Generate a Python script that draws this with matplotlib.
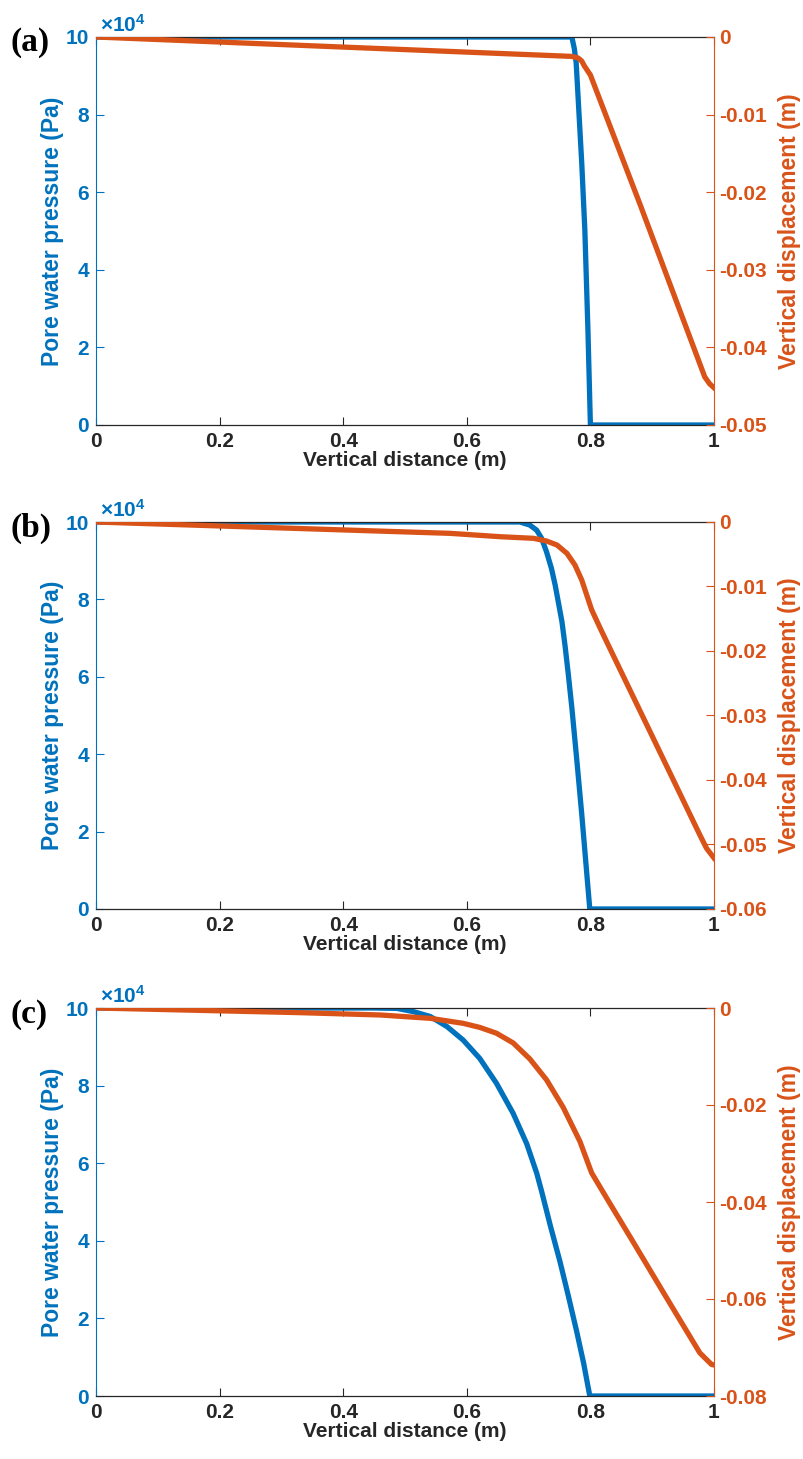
import numpy as np
import matplotlib
matplotlib.use("Agg")
import matplotlib.pyplot as plt
from matplotlib.ticker import FuncFormatter

plt.rcParams['font.family'] = ['Liberation Sans', 'DejaVu Sans']
plt.rcParams['font.weight'] = 'bold'
plt.rcParams['mathtext.fontset'] = 'custom'
plt.rcParams['mathtext.rm'] = 'Liberation Sans:bold'
plt.rcParams['mathtext.it'] = 'Liberation Sans:bold'
plt.rcParams['mathtext.bf'] = 'Liberation Sans:bold'
plt.rcParams['axes.unicode_minus'] = False

BLUE = '#0072BD'
ORANGE = '#D95319'
GREY = '#262626'

# --- data ---
# (a)
dist_pa_a = [0.0, 0.77, 0.774, 0.777, 0.786, 0.791, 0.796, 0.80, 1.0]
pore_a = [1.0e5, 1.0e5, 0.97e5, 0.933e5, 0.675e5, 0.503e5, 0.245e5, 0.0, 0.0]
dist_u_a = [0.0, 0.77, 0.78, 0.786, 0.79, 0.80, 0.88, 0.985, 0.993, 1.0]
disp_a = [0.0, -0.0025, -0.0027, -0.0031, -0.0037, -0.0049, -0.0215, -0.0438, -0.0447, -0.0452]

# (b)
dist_pa_b = [0.0, 0.686, 0.702, 0.713, 0.721, 0.729, 0.737, 0.743, 0.748, 0.754, 0.759,
             0.764, 0.770, 0.778, 0.786, 0.799, 1.0]
pore_b = [1.0e5, 1.0e5, 0.992e5, 0.979e5, 0.958e5, 0.923e5, 0.880e5, 0.837e5, 0.794e5,
          0.742e5, 0.680e5, 0.610e5, 0.520e5, 0.385e5, 0.245e5, 0.0, 0.0]
dist_u_b = [0.0, 0.573, 0.654, 0.708, 0.729, 0.746, 0.762, 0.775, 0.786, 0.794, 0.802,
            0.816, 0.829, 0.896, 0.977, 0.988, 1.0]
disp_b = [0.0, -0.00176, -0.00228, -0.00253, -0.00295, -0.00357, -0.00486, -0.00667,
          -0.0090, -0.0113, -0.0136, -0.0165, -0.0191, -0.0324, -0.0485, -0.0506, -0.0521]

# (c)
dist_pa_c = [0.0, 0.45, 0.487, 0.514, 0.541, 0.568, 0.594, 0.621, 0.648, 0.675, 0.697,
             0.713, 0.721, 0.735, 0.751, 0.764, 0.778, 0.789, 0.799, 1.0]
pore_c = [1.0e5, 1.0e5, 0.999e5, 0.9905e5, 0.978e5, 0.952e5, 0.9175e5, 0.870e5, 0.806e5,
          0.7285e5, 0.650e5, 0.575e5, 0.528e5, 0.440e5, 0.345e5, 0.260e5, 0.165e5,
          0.085e5, 0.0, 0.0]
dist_u_c = [0.0, 0.33, 0.46, 0.541, 0.594, 0.621, 0.648, 0.675, 0.702, 0.729, 0.756,
            0.783, 0.802, 0.816, 0.832, 0.869, 0.923, 0.977, 0.996, 1.0]
disp_c = [0.0, -0.00096, -0.00144, -0.00213, -0.00316, -0.0040, -0.0052, -0.0072, -0.0105,
          -0.0148, -0.0205, -0.0275, -0.0340, -0.0370, -0.0404, -0.0482, -0.0597, -0.0711,
          -0.0735, -0.0736]

x_ticks = [0, 0.2, 0.4, 0.6, 0.8, 1.0]
pore_ticks = [0, 2e4, 4e4, 6e4, 8e4, 10e4]

W, H = 804, 1459
fig = plt.figure(figsize=(W / 100, H / 100), dpi=100)


def panel(top, bottom, xp, p, xd, d, dmin, dstep, tag):
    rect = [96 / W, 1 - bottom / H, (714 - 96) / W, (bottom - top) / H]
    ax = fig.add_axes(rect)
    ax.plot(xp, p, color=BLUE, lw=3.8, solid_joinstyle='round')
    ax.set_xlim(0, 1)
    ax.set_ylim(0, 1e5)
    ax.set_xticks(x_ticks)
    ax.set_yticks(pore_ticks)
    ax.xaxis.set_major_formatter(FuncFormatter(lambda v, _: f'{v:g}'))
    ax.yaxis.set_major_formatter(FuncFormatter(lambda v, _: f'{v / 1e4:g}'))
    ax.tick_params(axis='x', direction='in', top=True, length=6, width=0.8,
                   color=GREY, labelcolor=GREY, labelsize=15, pad=5)
    ax.tick_params(axis='y', direction='in', length=6, width=0.8,
                   color=BLUE, labelcolor=BLUE, labelsize=15, pad=5)
    for s in ('top', 'bottom'):
        ax.spines[s].set_color(GREY)
        ax.spines[s].set_linewidth(0.9)
    ax.spines['left'].set_color(BLUE)
    ax.spines['right'].set_visible(False)
    ax.set_xlabel('Vertical distance (m)', fontsize=15, fontweight='bold',
                  color=GREY, labelpad=0)
    ax.set_ylabel('Pore water pressure (Pa)', fontsize=16.5, fontweight='bold',
                  color=BLUE, labelpad=1)
    ax.text(0.006, 1.002, r'$\times10^{4}$', transform=ax.transAxes, color=BLUE,
            fontsize=15, ha='left', va='bottom')

    ax2 = ax.twinx()
    ax2.plot(xd, d, color=ORANGE, lw=3.8, solid_joinstyle='round')
    ax2.set_ylim(dmin, 0)
    ax2.set_yticks(np.arange(dmin, 0.0001, dstep))
    ax2.yaxis.set_major_formatter(FuncFormatter(lambda v, _: '0' if abs(v) < 1e-9 else f'{v:g}'))
    ax2.tick_params(axis='y', direction='in', length=6, width=0.8,
                    color=ORANGE, labelcolor=ORANGE, labelsize=15, pad=4)
    for s in ('top', 'bottom', 'left'):
        ax2.spines[s].set_visible(False)
    ax2.spines['right'].set_color(ORANGE)
    ax2.set_ylabel('Vertical displacement (m)', fontsize=16.5, fontweight='bold',
                   color=ORANGE, labelpad=8)

    fig.text(11 / W, 1 - (top + 6) / H, tag, fontsize=24, fontweight='bold',
             family=['Liberation Serif'], color='black', va='center', ha='left')


panel(37, 425, dist_pa_a, pore_a, dist_u_a, disp_a, -0.05, 0.01, '(a)')
panel(522, 909, dist_pa_b, pore_b, dist_u_b, disp_b, -0.06, 0.01, '(b)')
panel(1008, 1396, dist_pa_c, pore_c, dist_u_c, disp_c, -0.08, 0.02, '(c)')

fig.savefig('out.png', dpi=100, facecolor='white')
